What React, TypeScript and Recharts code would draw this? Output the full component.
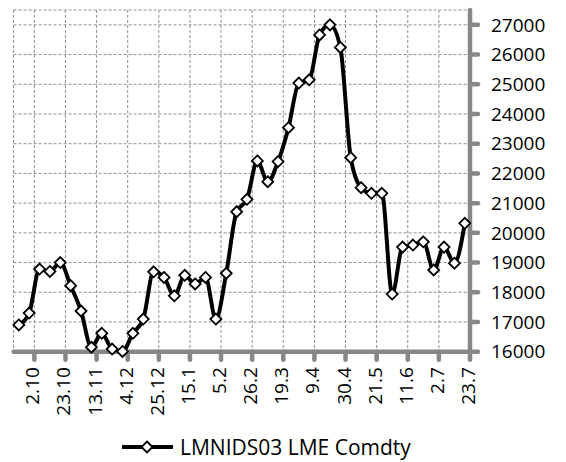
import { LineChart, Line, XAxis, YAxis, CartesianGrid, Legend } from "recharts";

// weekly LME nickel 3M price
const prices = [
  16900, 17300, 18780, 18700, 19000, 18220, 17370, 16150, 16620, 16090, 16010,
  16620, 17100, 18690, 18500, 17880, 18570, 18280, 18500, 17100, 18640, 20710,
  21130, 22420, 21720, 22400, 23540, 25040, 25150, 26660, 27000, 26240, 22530,
  21520, 21330, 21330, 17940, 19520, 19590, 19700, 18750, 19520, 18980, 20320,
];

const tickLabels = [
  "2.10", "23.10", "13.11", "4.12", "25.12", "15.1", "5.2", "26.2",
  "19.3", "9.4", "30.4", "21.5", "11.6", "2.7", "23.7",
];
const tickWeeks = [1.5, 4.5, 7.5, 10.5, 13.5, 16.5, 19.5, 22.5, 25.5, 28.5, 31.5, 34.5, 37.5, 40.5, 43.5];

const yTicks = [16000, 17000, 18000, 19000, 20000, 21000, 22000, 23000, 24000, 25000, 26000, 27000];

const seriesName = "LMNIDS03 LME Comdty";

const data = prices.map((p, i) => ({ week: i, price: p }));

const FONT = "'Open Sans', sans-serif";
const AXIS = "#878787";

function Diamond(props: any) {
  const { cx, cy, index } = props;
  if (cx == null || cy == null) return null;
  const r = 5.5;
  return (
    <polygon
      key={`d-${index}`}
      points={`${cx},${cy - r} ${cx + r},${cy} ${cx},${cy + r} ${cx - r},${cy}`}
      fill="#fff"
      stroke="#000"
      strokeWidth={1.8}
    />
  );
}

function XTick(props: any) {
  const { x, y, payload } = props;
  const i = tickWeeks.indexOf(payload.value);
  const tx = x + 5;
  const ty = y + 5.5;
  return (
    <text
      x={tx}
      y={ty}
      transform={`rotate(-90, ${tx}, ${ty})`}
      textAnchor="end"
      fontFamily={FONT}
      fontSize={19}
      fill="#000"
    >
      {tickLabels[i]}
    </text>
  );
}

function LegendBox() {
  const cy = 25;
  const r = 5.5;
  const mx = 147;
  return (
    <svg width={566} height={40} style={{ display: "block" }}>
      <line x1={122} y1={cy} x2={173} y2={cy} stroke="#000" strokeWidth={4} />
      <polygon
        points={`${mx},${cy - r} ${mx + r},${cy} ${mx},${cy + r} ${mx - r},${cy}`}
        fill="#fff"
        stroke="#000"
        strokeWidth={1.8}
      />
      <text x={180} y={cy} dy="0.36em" fontFamily={FONT} fontSize={21} fill="#000">
        {seriesName}
      </text>
    </svg>
  );
}

export default function App() {
  return (
    <div style={{ position: "absolute", left: 0, top: 0, width: 566, height: 462, background: "#fff" }}>
      <LineChart width={566} height={462} data={data} margin={{ top: 10, right: 0, left: 13.6, bottom: 0 }}>
        <CartesianGrid stroke="#8f8f8f" strokeDasharray="3 2" strokeWidth={1} />
        <XAxis
          dataKey="week"
          type="number"
          domain={[-0.5, 43.5]}
          ticks={tickWeeks}
          interval={0}
          height={70.3}
          tickSize={8}
          axisLine={{ stroke: AXIS, strokeWidth: 4.5, strokeLinecap: "round" }}
          tickLine={{ stroke: AXIS, strokeWidth: 4.5, strokeLinecap: "round" }}
          tick={<XTick />}
        />
        <YAxis
          orientation="right"
          width={96}
          domain={[16000, 27500]}
          ticks={yTicks}
          interval={0}
          tickSize={8}
          tickMargin={13}
          axisLine={{ stroke: AXIS, strokeWidth: 4.5, strokeLinecap: "round" }}
          tickLine={{ stroke: AXIS, strokeWidth: 4.5, strokeLinecap: "round" }}
          tick={{ fill: "#000", fontSize: 19, fontFamily: FONT }}
        />
        <Legend
          verticalAlign="bottom"
          wrapperStyle={{ left: 0, width: 566 }}
          content={() => <LegendBox />}
        />
        <Line
          dataKey="price"
          name={seriesName}
          type="monotone"
          stroke="#000"
          strokeWidth={4}
          dot={Diamond}
          activeDot={false}
          isAnimationActive={false}
        />
      </LineChart>
    </div>
  );
}
